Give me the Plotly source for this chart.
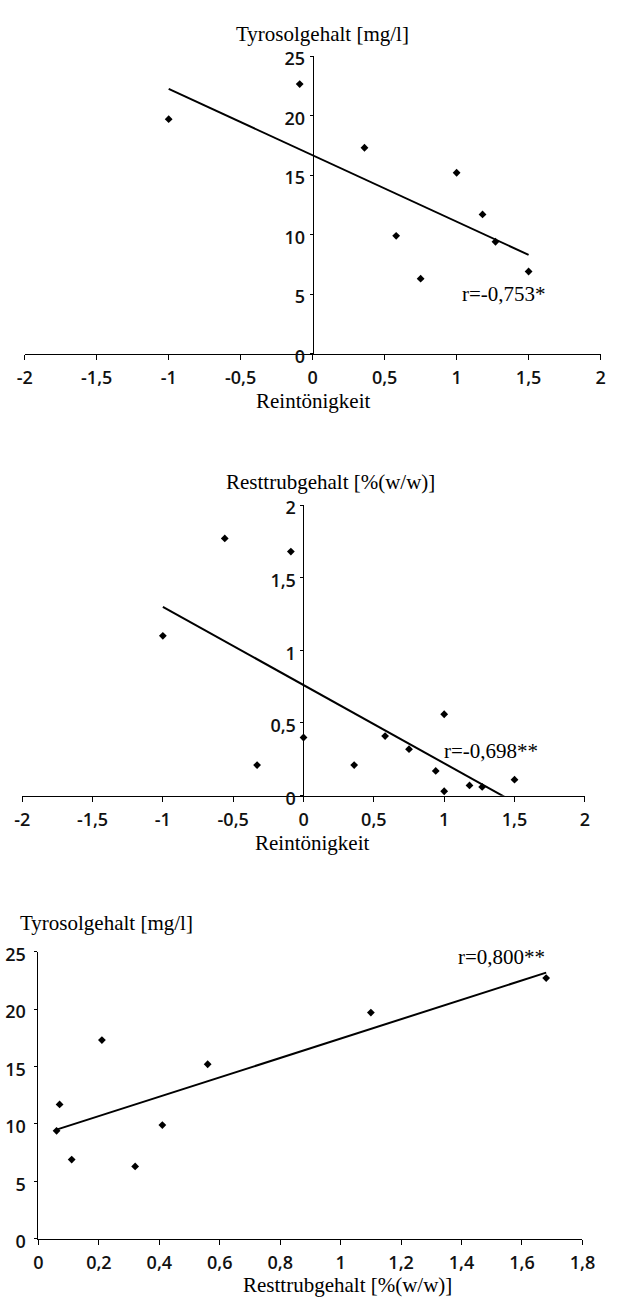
import numpy as np
import plotly.graph_objects as go

W, H = 622, 1309

# ---- data ----
reint_1 = [-1.0, -0.09, 0.36, 0.58, 0.75, 1.0, 1.18, 1.27, 1.5]
tyrosol_1 = [19.7, 22.65, 17.3, 9.9, 6.3, 15.2, 11.7, 9.4, 6.9]

reint_2 = [-1.0, -0.56, -0.33, -0.09, 0.0, 0.36, 0.58, 0.75, 0.94, 1.0, 1.0, 1.18, 1.27, 1.5]
resttrub_2 = [1.10, 1.77, 0.21, 1.68, 0.40, 0.21, 0.41, 0.32, 0.17, 0.56, 0.03, 0.07, 0.06, 0.11]

resttrub_3 = [0.06, 0.07, 0.11, 0.21, 0.32, 0.41, 0.56, 1.10, 1.68]
tyrosol_3 = [9.4, 11.7, 6.9, 17.3, 6.3, 9.9, 15.2, 19.7, 22.7]

x_ticks_12 = [-2, -1.5, -1, -0.5, 0, 0.5, 1, 1.5, 2]
x_ticklabels_12 = ["-2", "-1,5", "-1", "-0,5", "0", "0,5", "1", "1,5", "2"]
y_ticks_tyr = [0, 5, 10, 15, 20, 25]
y_ticks_rest = [0, 0.5, 1, 1.5, 2]
y_ticklabels_rest = ["0", "0,5", "1", "1,5", "2"]
x_ticks_3 = [0, 0.2, 0.4, 0.6, 0.8, 1, 1.2, 1.4, 1.6, 1.8]
x_ticklabels_3 = ["0", "0,2", "0,4", "0,6", "0,8", "1", "1,2", "1,4", "1,6", "1,8"]

r_labels = ["r=-0,753*", "r=-0,698**", "r=0,800**"]

SERIF = "Liberation Serif"
SANS = "Open Sans"

def px_x(p):
    return p / W

def px_y(p):
    return 1 - p / H

def trend(xs, ys):
    k, d = np.polyfit(xs, ys, 1)
    xe = np.array([min(xs), max(xs)])
    return xe, k * xe + d

fig = go.Figure()

marker = dict(symbol="diamond", size=6, color="black")
line = dict(color="black", width=2)

# plot 1
tx, ty = trend(reint_1, tyrosol_1)
fig.add_trace(go.Scatter(x=tx, y=ty, mode="lines", line=line, xaxis="x", yaxis="y", hoverinfo="skip"))
fig.add_trace(go.Scatter(x=reint_1, y=tyrosol_1, mode="markers", marker=marker, xaxis="x", yaxis="y"))
# plot 2
tx, ty = trend(reint_2, resttrub_2)
fig.add_trace(go.Scatter(x=tx, y=ty, mode="lines", line=line, xaxis="x2", yaxis="y2", hoverinfo="skip"))
fig.add_trace(go.Scatter(x=reint_2, y=resttrub_2, mode="markers", marker=marker, xaxis="x2", yaxis="y2"))
# plot 3
tx, ty = trend(resttrub_3, tyrosol_3)
fig.add_trace(go.Scatter(x=tx, y=ty, mode="lines", line=line, xaxis="x3", yaxis="y3", hoverinfo="skip"))
fig.add_trace(go.Scatter(x=resttrub_3, y=tyrosol_3, mode="markers", marker=marker, xaxis="x3", yaxis="y3"))

tickfont = dict(family=SANS, size=18, color="#111111", weight=600)
common = dict(showgrid=False, zeroline=False, showline=True, linecolor="black", linewidth=1,
              ticks="outside", tickcolor="black", tickfont=tickfont)

fig.update_layout(
    width=W, height=H,
    margin=dict(l=0, r=0, t=0, b=0),
    paper_bgcolor="white", plot_bgcolor="white",
    showlegend=False,
    xaxis=dict(domain=[px_x(17.3), px_x(613.3)], range=[-2, 2], anchor="y",
               tickvals=x_ticks_12, ticktext=x_ticklabels_12, ticklen=5, ticklabelstandoff=3, **common),
    yaxis=dict(domain=[px_y(350), px_y(47)], range=[0, 25], anchor="free", position=px_x(315.3),
               tickvals=y_ticks_tyr, ticklen=3, ticklabelstandoff=1, ticklabelshift=3, **common),
    xaxis2=dict(domain=[px_x(14.7), px_x(597)], range=[-2, 2], anchor="y2",
                tickvals=x_ticks_12, ticktext=x_ticklabels_12, ticklen=5, ticklabelstandoff=3, **common),
    yaxis2=dict(domain=[px_y(800.3), px_y(504.3)], range=[0, 2], anchor="free", position=px_x(305.8),
                tickvals=y_ticks_rest, ticktext=y_ticklabels_rest, ticklen=3, ticklabelstandoff=1,
                ticklabelshift=3, **common),
    xaxis3=dict(domain=[px_x(31.5), px_x(594.5)], range=[0, 1.8], anchor="y3",
                tickvals=x_ticks_3, ticktext=x_ticklabels_3, ticklen=5, ticklabelstandoff=3, **common),
    yaxis3=dict(domain=[px_y(1251.7), px_y(959.3)], range=[0, 25], anchor="x3",
                tickvals=y_ticks_tyr, ticklen=3, ticklabelstandoff=5, ticklabelshift=3, **common),
)

titlefont = dict(family=SERIF, size=21, color="black")
annfont = dict(family=SERIF, size=21, color="black")
anns = [
    dict(text="Tyrosolgehalt [mg/l]", x=px_x(326), y=px_y(24), font=titlefont),
    dict(text="Reintönigkeit", x=px_x(316), y=px_y(398.5), font=titlefont),
    dict(text="Resttrubgehalt [%(w/w)]", x=px_x(333.6), y=px_y(481), font=titlefont),
    dict(text="Reintönigkeit", x=px_x(315), y=px_y(848.5), font=titlefont),
    dict(text="Tyrosolgehalt [mg/l]", x=px_x(101.7), y=px_y(930), font=titlefont),
    dict(text="Resttrubgehalt [%(w/w)]", x=px_x(351.6), y=px_y(1298.5), font=titlefont),
]
for a in anns:
    fig.add_annotation(xref="paper", yref="paper", xanchor="center", yanchor="middle",
                       showarrow=False, **a)

fig.add_annotation(text=r_labels[0], x=1.33, y=5.0, xref="x", yref="y", showarrow=False, font=annfont)
fig.add_annotation(text=r_labels[1], x=1.334, y=0.306, xref="x2", yref="y2", showarrow=False, font=annfont)
fig.add_annotation(text=r_labels[2], x=1.532, y=24.5, xref="x3", yref="y3", showarrow=False, font=annfont)

fig.write_html("out.html", config={"displayModeBar": False},
               post_script="document.body.style.margin='0';")
